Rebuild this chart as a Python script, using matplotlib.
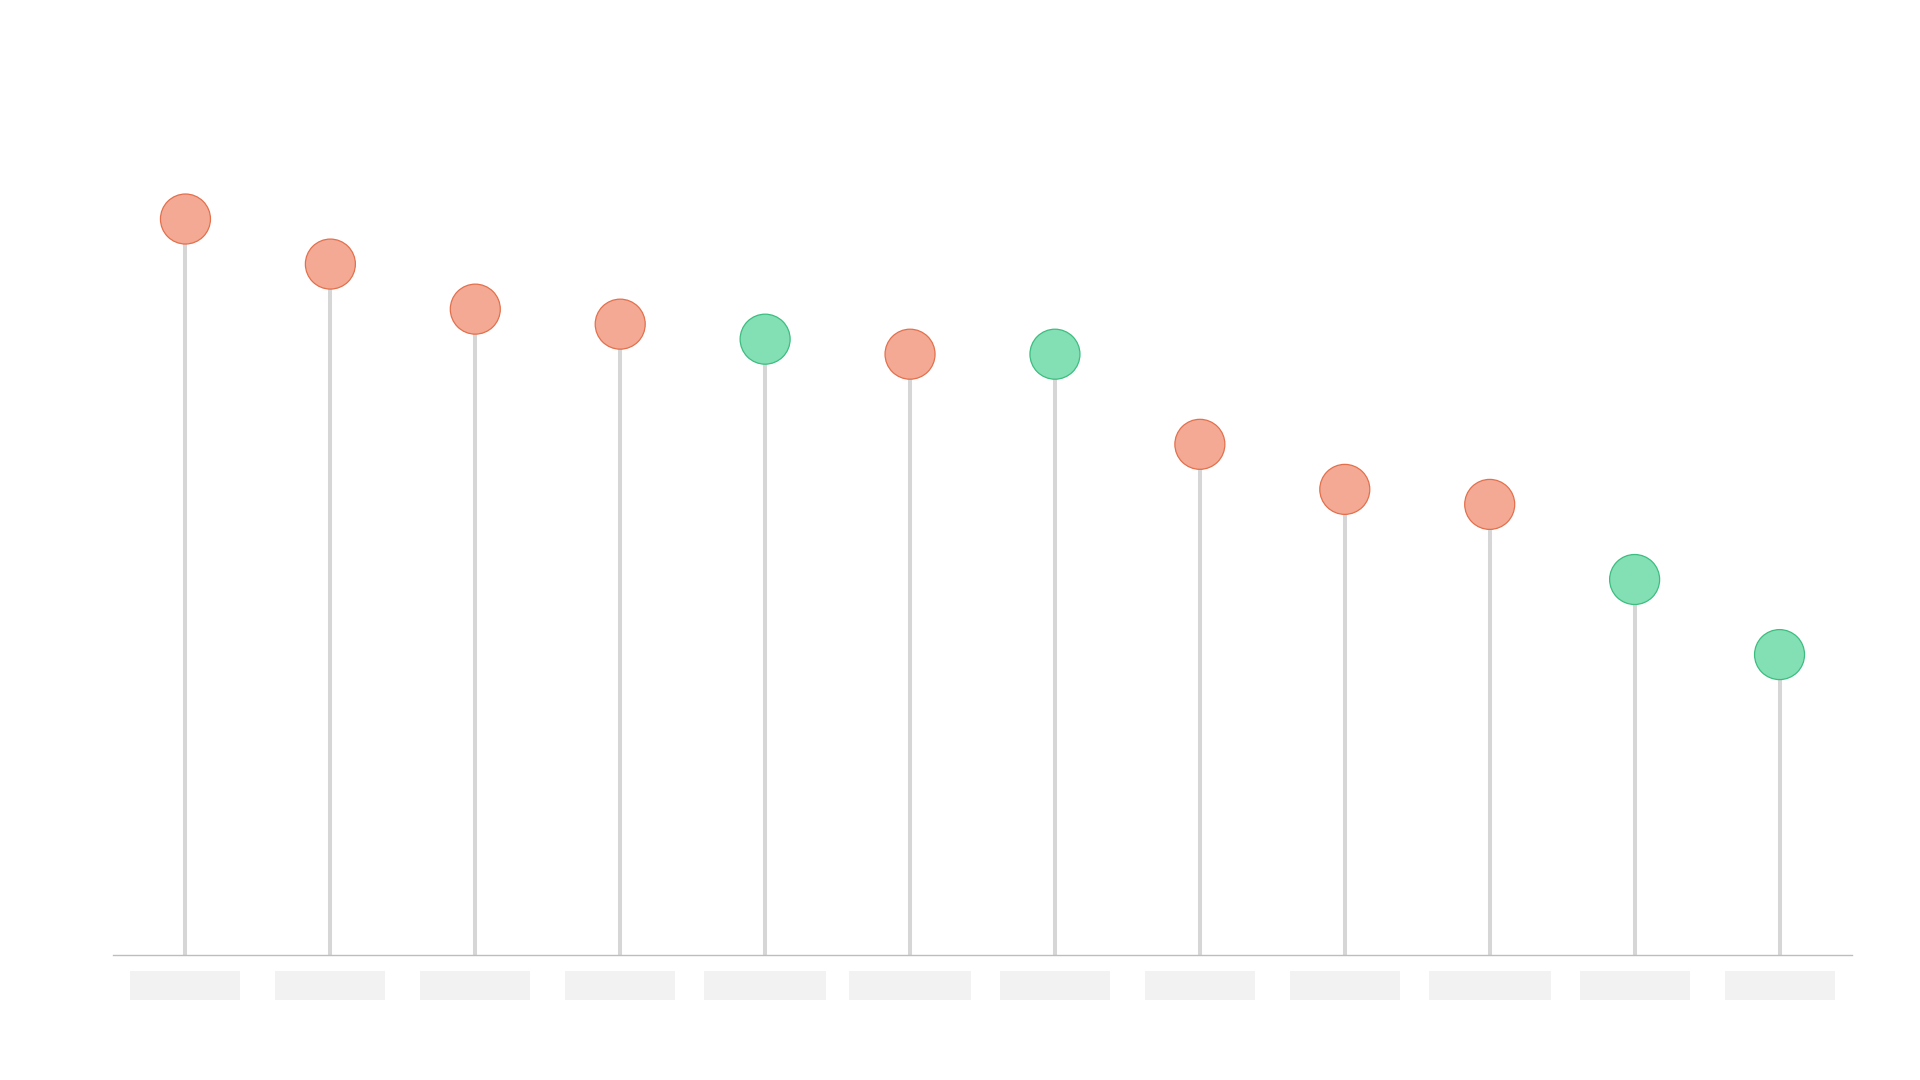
import matplotlib
matplotlib.use("Agg")
from matplotlib import pyplot as plt
from matplotlib.patches import Rectangle

# values (no axis ticks in the original)
categories = ["A", "B", "C", "D", "E", "F", "G", "H", "I", "J", "K", "L"]
values = [98, 92, 86, 84, 82, 80, 80, 68, 62, 60, 50, 40]
highlight = [False, False, False, False, True, False, True, False, False, False, True, True]
# placeholder label widths (pixels), the labels are drawn as grey blocks
label_box_px = [110, 110, 110, 110, 122, 122, 110, 110, 110, 122, 110, 110]

RED_FILL = "#f3a994"
RED_EDGE = "#e3704d"
GREEN_FILL = "#83dfb4"
GREEN_EDGE = "#3dbd80"
STEM = "#d6d6d6"
AXIS = "#bdbdbd"
BOX = "#f2f2f2"

W, H, DPI = 1920, 1080, 100
fig = plt.figure(figsize=(W / DPI, H / DPI), dpi=DPI)
fig.patch.set_facecolor("white")

# axes placed in pixel terms: x 113..1852, y 955 (zero) .. 204 (100)
left, right = 113, 1852
zero_y, top_y = 955, 204
ax = fig.add_axes([left / W, (H - zero_y) / H, (right - left) / W, (zero_y - top_y) / H])
ax.set_xlim(-0.5, len(categories) - 0.5)
ax.set_ylim(0, 100)

x = list(range(len(categories)))
ax.vlines(x, 0, values, colors=STEM, linewidths=2.9, zorder=2)

fills = [GREEN_FILL if h else RED_FILL for h in highlight]
edges = [GREEN_EDGE if h else RED_EDGE for h in highlight]
ax.scatter(x, values, s=36 ** 2, c=fills, edgecolors=edges, linewidths=0.9,
           zorder=3, clip_on=False)

for s in ["top", "right", "left"]:
    ax.spines[s].set_visible(False)
ax.spines["bottom"].set_color(AXIS)
ax.spines["bottom"].set_linewidth(1.0)
ax.set_xticks([])
ax.set_yticks([])

# grey placeholder blocks instead of tick labels
px_per_x = (right - left) / len(categories)
px_per_y = (zero_y - top_y) / 100
box_top = -(971 - zero_y) / px_per_y
box_h = 28.5 / px_per_y
for i, wpx in enumerate(label_box_px):
    wd = wpx / px_per_x
    ax.add_patch(Rectangle((i - wd / 2, box_top - box_h), wd, box_h,
                           facecolor=BOX, edgecolor="none", clip_on=False))

fig.savefig("out.png", dpi=DPI, facecolor="white")
